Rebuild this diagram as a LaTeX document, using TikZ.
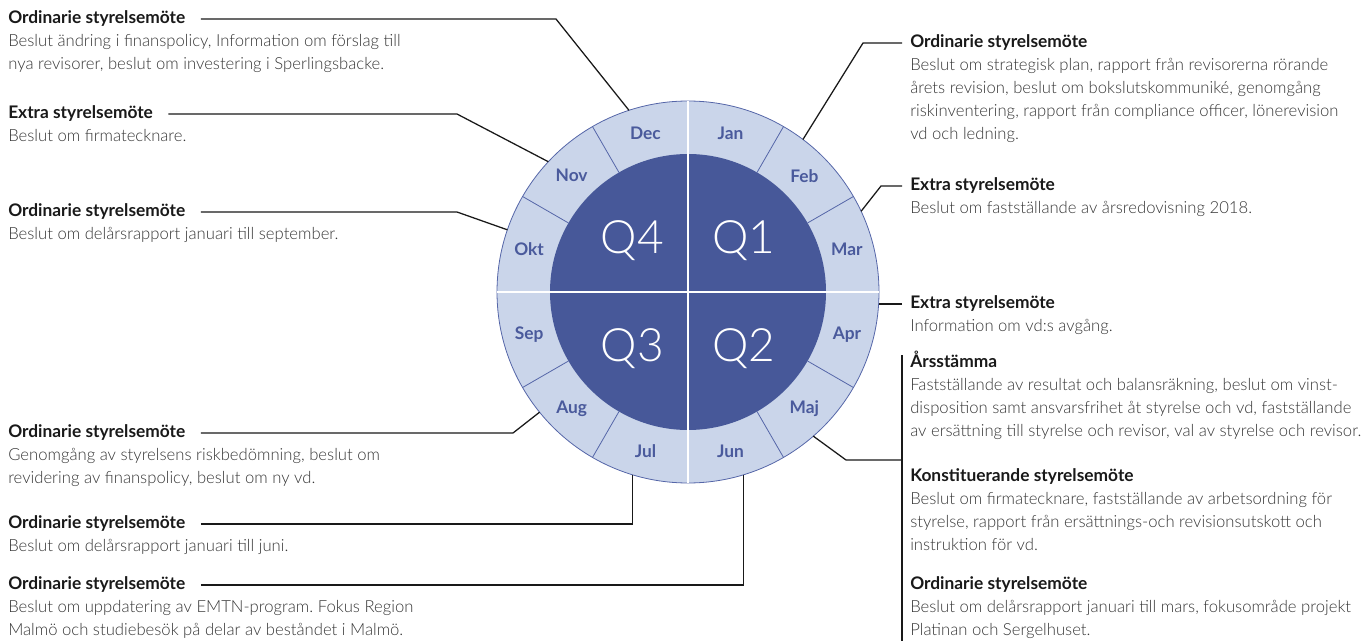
\documentclass[tikz,border=0pt]{standalone}
\usepackage{fontspec}
\setmainfont{Lato}
\IfFontExistsTF{Lato Light}{\newfontfamily\lightfont{Lato Light}}{\newfontfamily\lightfont{Lato}}
\frenchspacing
\usetikzlibrary{positioning}
\definecolor{ringfill}{HTML}{CAD5EA}
\definecolor{ringedge}{HTML}{5566A8}
\definecolor{quarterfill}{HTML}{475899}
\definecolor{monthblue}{HTML}{4A5A9C}
\definecolor{bodygray}{HTML}{363636}
\tikzset{
  headline/.style={font=\bfseries\fontsize{13pt}{17.25pt}\selectfont, text=black!90, inner sep=0pt, anchor=west, text height=9.5pt, text depth=2.8pt},
  blurb/.style={font=\lightfont\fontsize{12.5pt}{17.25pt}\selectfont, text=bodygray, inner sep=0pt, align=left, anchor=north west},
  lead/.style={draw=black!90, line width=0.95pt},
  month/.style={font=\bfseries\fontsize{13pt}{15pt}\selectfont, text=monthblue},
  quarter/.style={font=\lightfont\fontsize{34.5pt}{40pt}\selectfont, text=white, anchor=base},
}
\begin{document}
\begin{tikzpicture}[x=0.75pt,y=0.75pt]
\useasboundingbox (0,0) rectangle (1364,640);

% wheel
\coordinate (hub) at (688,348);
\node[circle, minimum size=286.5pt, inner sep=0pt, outer sep=0pt, fill=ringfill, draw=ringedge, line width=0.6pt] (ring) at (hub) {};
\fill[quarterfill] (hub) circle[radius=103.5pt];
\foreach \a in {30,60,120,150,210,240,300,330}
  \draw[ringedge, line width=0.6pt] (hub) ++(\a:103.5pt) -- ++(\a:39.75pt);
\draw[white, line width=2.2pt] (ring.north) -- (ring.south);
\draw[white, line width=2.2pt] (ring.west) -- (ring.east);
\foreach \m [count=\i] in {Jan,Feb,Mar,Apr,Maj,Jun,Jul,Aug,Sep,Okt,Nov,Dec}
  \node[month] (m-\m) at ([shift={({105-30*\i}:123.4pt)}]hub) {\m};
\node[quarter] (q1) at (744,386.5) {Q1};
\node[quarter] (q2) at (744,278.3) {Q2};
\node[quarter] (q3) at (632.5,278.3) {Q3};
\node[quarter] (q4) at (632.5,386.5) {Q4};

% left column
\node[headline] (hd-dec) at (8,621) {Ordinarie styrelsemöte};
\node[below=5.2pt of hd-dec.base west, blurb] (bd-dec) {\strut Beslut ändring i finanspolicy, Information om förslag till\\nya revisorer, beslut om investering i Sperlingsbacke.};
\node[headline] (hd-nov) at (8,526) {Extra styrelsemöte};
\node[below=5.2pt of hd-nov.base west, blurb] (bd-nov) {\strut Beslut om firmatecknare.};
\node[headline] (hd-okt) at (8,428) {Ordinarie styrelsemöte};
\node[below=5.2pt of hd-okt.base west, blurb] (bd-okt) {\strut Beslut om delårsrapport januari till september.};
\node[headline] (hd-aug) at (8,207) {Ordinarie styrelsemöte};
\node[below=5.2pt of hd-aug.base west, blurb] (bd-aug) {\strut Genomgång av styrelsens riskbedömning, beslut om\\revidering av finanspolicy, beslut om ny vd.};
\node[headline] (hd-jul) at (8,116) {Ordinarie styrelsemöte};
\node[below=5.2pt of hd-jul.base west, blurb] (bd-jul) {\strut Beslut om delårsrapport januari till juni.};
\node[headline] (hd-jun) at (8,55) {Ordinarie styrelsemöte};
\node[below=5.2pt of hd-jun.base west, blurb] (bd-jun) {\strut Beslut om uppdatering av EMTN-program. Fokus Region\\Malmö och studiebesök på delar av beståndet i Malmö.};

% right column
\node[headline] (hd-jan) at (910,597) {Ordinarie styrelsemöte};
\node[below=5.2pt of hd-jan.base west, blurb] (bd-jan) {\strut Beslut om strategisk plan, rapport från revisorerna rörande\\årets revision, beslut om bokslutskommuniké, genomgång\\riskinventering, rapport från compliance officer, lönerevision\\vd och ledning.};
\node[headline] (hd-feb) at (910,454) {Extra styrelsemöte};
\node[below=5.2pt of hd-feb.base west, blurb] (bd-feb) {\strut Beslut om fastställande av årsredovisning 2018.};
\node[headline] (hd-apr) at (910,336) {Extra styrelsemöte};
\node[below=5.2pt of hd-apr.base west, blurb] (bd-apr) {\strut Information om vd:s avgång.};
\node[headline] (hd-ars) at (910,277) {Årsstämma};
\node[below=5.2pt of hd-ars.base west, blurb] (bd-ars) {\strut Fastställande av resultat och balansräkning, beslut om vinst-\\disposition samt ansvarsfrihet åt styrelse och vd, fastställande\\av ersättning till styrelse och revisor, val av styrelse och revisor.};
\node[headline] (hd-kon) at (910,163) {Konstituerande styrelsemöte};
\node[below=5.2pt of hd-kon.base west, blurb] (bd-kon) {\strut Beslut om firmatecknare, fastställande av arbetsordning för\\styrelse, rapport från ersättnings-och revisionsutskott och\\instruktion för vd.};
\node[headline] (hd-ord) at (910,55) {Ordinarie styrelsemöte};
\node[below=5.2pt of hd-ord.base west, blurb] (bd-ord) {\strut Beslut om delårsrapport januari till mars, fokusområde projekt\\Platinan och Sergelhuset.};

% connectors
\coordinate (k-dec) at (556,621);
\coordinate (k-nov) at (457,526);
\coordinate (k-okt) at (457,428);
\coordinate (k-aug) at (513,207);
\coordinate (k-jan) at (863,597);
\coordinate (k-feb) at (881,454);
\coordinate (k-maj) at (846,180);
\coordinate (bar-top) at (902,285);
\coordinate (bar-end) at (902,-10);
\draw[lead] ([xshift=11.5pt]hd-dec.east) -- (k-dec) -- (ring.108.3);
\draw[lead] ([xshift=11.5pt]hd-nov.east) -- (k-nov) -- (ring.137);
\draw[lead] ([xshift=11.5pt]hd-okt.east) -- (k-okt) -- (ring.161);
\draw[lead] ([xshift=11.5pt]hd-aug.east) -- (k-aug) -- (ring.219);
\draw[lead] ([xshift=11.5pt]hd-jul.east) -| (ring.253);
\draw[lead] ([xshift=11.5pt]hd-jun.east) -| (ring.287.5);
\draw[lead] (ring.53) -- (k-jan) -- ([xshift=-6pt]hd-jan.west);
\draw[lead] (ring.25) -- (k-feb) -- ([xshift=-6pt]hd-feb.west);
\draw[lead] ([xshift=-6pt]hd-apr.west) -- (hd-apr.west -| ring.east);
\draw[lead] (bar-top) -- (bar-end);
\draw[lead] (ring.-49.3) -- (k-maj) -- (k-maj -| bar-top);
\end{tikzpicture}
\end{document}
